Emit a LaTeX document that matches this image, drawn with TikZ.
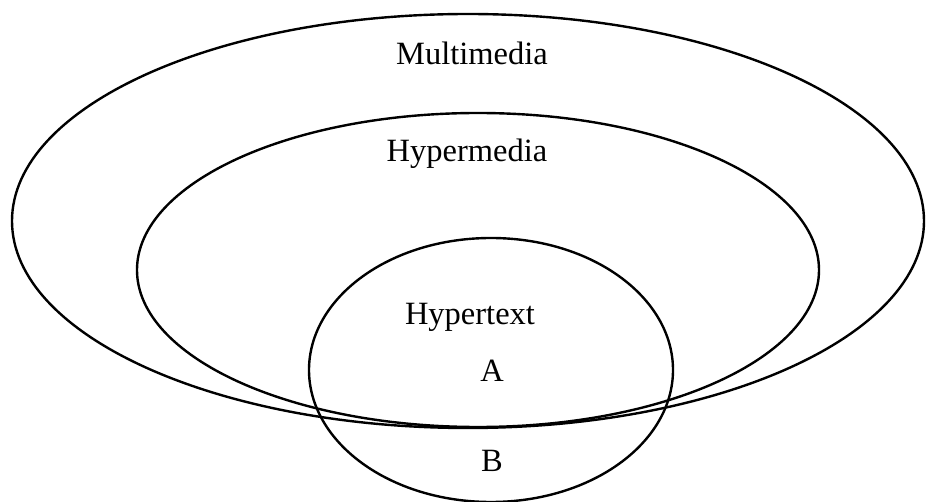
\documentclass[tikz,border=0pt]{standalone}
\usepackage{fontspec}
\setmainfont{Liberation Serif}
\begin{document}
\begin{tikzpicture}[x=1pt,y=-1pt,
  ring/.style={draw=black,line width=2.4pt},
  lbl/.style={anchor=base,inner sep=0pt,font=\fontsize{32.5}{36}\selectfont}]
\useasboundingbox (0,0) rectangle (927,502);
\draw[ring] (468,221) ellipse [x radius=456, y radius=207];
\draw[ring] (478,270) ellipse [x radius=341, y radius=157];
\draw[ring] (491,370) ellipse [x radius=182, y radius=132];
\node[lbl] (multi) at (472,65) {Multimedia};
\node[lbl] (hyperm) at (467,162) {Hypermedia};
\node[lbl] (hypert) at (470,325) {Hypertext};
\node[lbl] (a) at (492,382) {A};
\node[lbl] (b) at (492,472) {B};
\end{tikzpicture}
\end{document}
